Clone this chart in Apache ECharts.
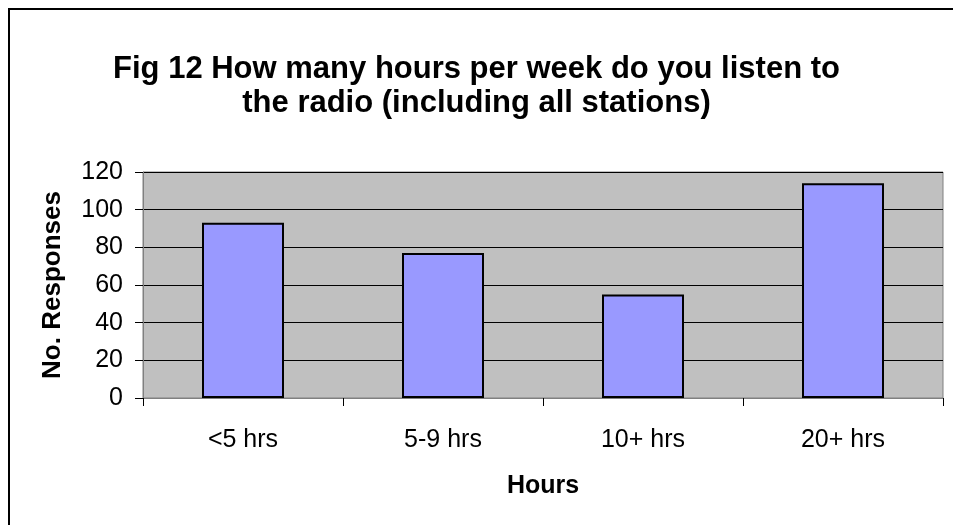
<!DOCTYPE html>
<html>
<head>
<meta charset="utf-8">
<script src="https://cdn.jsdelivr.net/npm/echarts@6/dist/echarts.min.js"></script>
<style>
  html, body { margin: 0; padding: 0; background: #fff; }
  #chart { width: 953px; height: 525px; }
</style>
</head>
<body>
<div id="chart"></div>
<script>
// 数据
const categories = ['<5 hrs', '5-9 hrs', '10+ hrs', '20+ hrs'];
const responses = [93, 77, 55, 114];
const yTicks = [0, 20, 40, 60, 80, 100, 120];

const chart = echarts.init(document.getElementById('chart'));
const font = '"Liberation Sans", Arial, sans-serif';

const option = {
  backgroundColor: '#fff',
  animation: false,
  title: {
    text: 'Fig 12 How many hours per week do you listen to\nthe radio (including all stations)',
    left: 'center',
    top: 47,
    textStyle: {
      fontFamily: font,
      fontWeight: 'bold',
      fontSize: 31,
      lineHeight: 34,
      color: '#000'
    }
  },
  // 外框
  graphic: [{
    type: 'rect',
    shape: { x: 9, y: 9, width: 970, height: 540 },
    style: { fill: 'none', stroke: '#000', lineWidth: 2 },
    silent: true
  }],
  grid: {
    left: 143,
    right: 10,
    top: 172,
    bottom: 127,
    show: true,
    backgroundColor: '#c0c0c0',
    borderColor: '#808080',
    borderWidth: 1
  },
  xAxis: {
    type: 'category',
    data: categories,
    name: 'Hours',
    nameLocation: 'middle',
    nameGap: 76,
    nameTextStyle: { fontFamily: font, fontWeight: 'bold', fontSize: 25, color: '#000' },
    axisLine: { lineStyle: { color: '#808080', width: 1 } },
    axisTick: { show: true, length: 8, inside: false, lineStyle: { color: '#000' } },
    axisLabel: { fontFamily: font, fontSize: 25, color: '#000', margin: 30 },
    splitLine: { show: false }
  },
  yAxis: {
    type: 'value',
    min: yTicks[0],
    max: yTicks[yTicks.length - 1],
    interval: 20,
    name: 'No. Responses',
    nameLocation: 'middle',
    nameRotate: 90,
    nameGap: 77,
    nameTextStyle: { fontFamily: font, fontWeight: 'bold', fontSize: 26, color: '#000' },
    axisLine: { show: true, lineStyle: { color: '#808080', width: 1 } },
    axisTick: { show: true, length: 8, lineStyle: { color: '#000' } },
    axisLabel: { fontFamily: font, fontSize: 25, color: '#000', margin: 20 },
    splitLine: { show: true, lineStyle: { color: '#000', width: 1 } }
  },
  series: [{
    type: 'bar',
    data: responses,
    barWidth: '41%',
    itemStyle: {
      color: '#9999ff',
      borderColor: '#000',
      borderWidth: 2
    }
  }]
};

chart.setOption(option);
</script>
</body>
</html>
